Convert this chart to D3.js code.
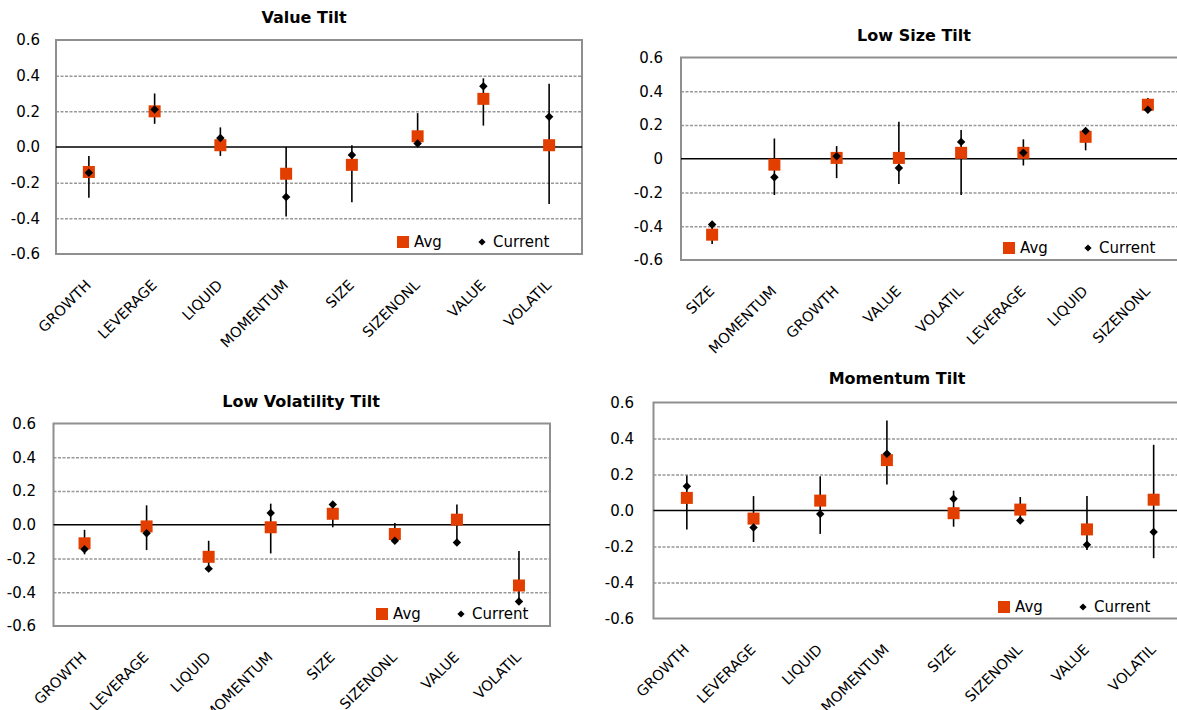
<!DOCTYPE html>
<html>
<head>
<meta charset="utf-8">
<script src="https://cdn.jsdelivr.net/npm/d3@7"></script>
<style>
  html, body { margin: 0; padding: 0; background: #fff; }
  svg { display: block; }
  text { font-family: "DejaVu Sans", sans-serif; fill: #000; }
</style>
</head>
<body>
<svg id="chart" width="1177" height="710"></svg>
<script>
// ---------- data ----------
const tickValues = [0.6, 0.4, 0.2, 0, -0.2, -0.4, -0.6];
const tickLabelsDec = ["0.6", "0.4", "0.2", "0.0", "-0.2", "-0.4", "-0.6"];
const tickLabelsGen = ["0.6", "0.4", "0.2", "0", "-0.2", "-0.4", "-0.6"];

const valueCats = ["GROWTH", "LEVERAGE", "LIQUID", "MOMENTUM", "SIZE", "SIZENONL", "VALUE", "VOLATIL"];
const valueAvg = [-0.14, 0.20, 0.01, -0.15, -0.10, 0.06, 0.27, 0.01];
const valueCur = [-0.145, 0.21, 0.05, -0.28, -0.045, 0.02, 0.34, 0.17];
const valueLo  = [-0.285, 0.13, -0.05, -0.39, -0.31, 0.015, 0.12, -0.32];
const valueHi  = [-0.05, 0.30, 0.11, 0.00, 0.01, 0.19, 0.385, 0.355];

const sizeCats = ["SIZE", "MOMENTUM", "GROWTH", "VALUE", "VOLATIL", "LEVERAGE", "LIQUID", "SIZENONL"];
const sizeAvg = [-0.45, -0.035, 0.005, 0.005, 0.035, 0.035, 0.13, 0.32];
const sizeCur = [-0.39, -0.11, 0.015, -0.055, 0.10, 0.035, 0.165, 0.29];
const sizeLo  = [-0.505, -0.215, -0.115, -0.15, -0.215, -0.04, 0.05, 0.29];
const sizeHi  = [-0.39, 0.12, 0.075, 0.22, 0.17, 0.115, 0.165, 0.36];

const volCats = ["GROWTH", "LEVERAGE", "LIQUID", "MOMENTUM", "SIZE", "SIZENONL", "VALUE", "VOLATIL"];
const volAvg = [-0.11, -0.01, -0.19, -0.015, 0.065, -0.055, 0.03, -0.36];
const volCur = [-0.145, -0.05, -0.26, 0.07, 0.12, -0.095, -0.105, -0.455];
const volLo  = [-0.175, -0.15, -0.26, -0.17, -0.015, -0.10, -0.105, -0.455];
const volHi  = [-0.03, 0.115, -0.095, 0.125, 0.12, 0.01, 0.12, -0.155];

const momCats = ["GROWTH", "LEVERAGE", "LIQUID", "MOMENTUM", "SIZE", "SIZENONL", "VALUE", "VOLATIL"];
const momAvg = [0.07, -0.045, 0.055, 0.28, -0.015, 0.005, -0.105, 0.06];
const momCur = [0.135, -0.095, -0.02, 0.315, 0.065, -0.055, -0.19, -0.12];
const momLo  = [-0.105, -0.175, -0.13, 0.145, -0.09, -0.065, -0.22, -0.265];
const momHi  = [0.195, 0.08, 0.19, 0.50, 0.11, 0.075, 0.08, 0.365];

const legendLabels = ["Avg", "Current"];

// ---------- layout ----------
const panels = [
  { title: "Value Tilt", cats: valueCats, avg: valueAvg, cur: valueCur, lo: valueLo, hi: valueHi, ticks: tickLabelsDec,
    left: 56, top: 40, right: 582, bottom: 254, titleX: 304, titleY: 23, tickRight: 40,
    legX: 403, legY: 242 },
  { title: "Low Size Tilt", cats: sizeCats, avg: sizeAvg, cur: sizeCur, lo: sizeLo, hi: sizeHi, ticks: tickLabelsGen,
    left: 681, top: 57.5, right: 1179, bottom: 260, titleX: 914, titleY: 41, tickRight: 663,
    legX: 1009, legY: 248 },
  { title: "Low Volatility Tilt", cats: volCats, avg: volAvg, cur: volCur, lo: volLo, hi: volHi, ticks: tickLabelsDec,
    left: 53.5, top: 423.5, right: 550, bottom: 626, titleX: 301, titleY: 407, tickRight: 36,
    legX: 382, legY: 614 },
  { title: "Momentum Tilt", cats: momCats, avg: momAvg, cur: momCur, lo: momLo, hi: momHi, ticks: tickLabelsDec,
    left: 653.5, top: 402.5, right: 1187, bottom: 618.5, titleX: 897, titleY: 384, tickRight: 634,
    legX: 1004, legY: 607 }
];

const AVG_COLOR = "#E23E00";
const svg = d3.select("#chart");
const diamond = d3.symbol().type(d3.symbolSquare).size(36);
const diamondLeg = d3.symbol().type(d3.symbolSquare).size(26);

panels.forEach(p => {
  const g = svg.append("g");
  const x = d3.scalePoint().domain(p.cats).range([p.left, p.right]).padding(0.5);
  const y = d3.scaleLinear().domain([-0.6, 0.6]).range([p.bottom, p.top]);
  const w = p.right - p.left;

  // gridlines (dashed)
  const grid = d3.axisLeft(y).tickValues([0.4, 0.2, -0.2, -0.4]).tickSize(-w).tickFormat("");
  const gg = g.append("g").attr("transform", `translate(${p.left},0)`).call(grid);
  gg.select(".domain").remove();
  gg.selectAll("line").attr("stroke", "#999").attr("stroke-width", 1.5).attr("stroke-dasharray", "3,1.5");

  // frame
  g.append("rect")
    .attr("x", p.left).attr("y", p.top).attr("width", w).attr("height", p.bottom - p.top)
    .attr("fill", "none").attr("stroke", "#8f8f8f").attr("stroke-width", 2);

  // zero line
  g.append("line")
    .attr("x1", p.left).attr("x2", p.right).attr("y1", y(0)).attr("y2", y(0))
    .attr("stroke", "#000").attr("stroke-width", 1.5);

  // y axis labels
  const ya = d3.axisLeft(y).tickValues(tickValues).tickSize(0).tickPadding(p.left - p.tickRight)
    .tickFormat((d, i) => p.ticks[i]);
  const yg = g.append("g").attr("transform", `translate(${p.left},0)`).call(ya);
  yg.select(".domain").remove();
  yg.selectAll("text").attr("font-family", "DejaVu Sans").attr("font-size", 15).attr("fill", "#000");

  // x labels
  g.selectAll(".xl").data(p.cats).enter().append("text")
    .attr("class", "xl")
    .attr("transform", d => `translate(${x(d) + 3},${p.bottom + 32}) rotate(-45)`)
    .attr("text-anchor", "end")
    .attr("font-family", "Open Sans")
    .attr("font-size", 14.5)
    .text(d => d);

  // title
  g.append("text")
    .attr("x", p.titleX).attr("y", p.titleY)
    .attr("text-anchor", "middle")
    .attr("font-weight", "bold")
    .attr("font-size", 16)
    .text(p.title);

  const idx = d3.range(p.cats.length);
  // error bars
  g.selectAll(".eb").data(idx).enter().append("line")
    .attr("x1", i => x(p.cats[i])).attr("x2", i => x(p.cats[i]))
    .attr("y1", i => y(p.hi[i])).attr("y2", i => y(p.lo[i]))
    .attr("stroke", "#000").attr("stroke-width", 1.6);
  // avg squares
  g.selectAll(".av").data(idx).enter().append("rect")
    .attr("x", i => x(p.cats[i]) - 6).attr("y", i => y(p.avg[i]) - 6)
    .attr("width", 12).attr("height", 12)
    .attr("fill", AVG_COLOR);
  // current diamonds
  g.selectAll(".cu").data(idx).enter().append("path")
    .attr("d", diamond)
    .attr("transform", i => `translate(${x(p.cats[i])},${y(p.cur[i])}) rotate(45)`)
    .attr("fill", "#000");

  // legend
  g.append("rect").attr("x", p.legX - 6).attr("y", p.legY - 6).attr("width", 12).attr("height", 12).attr("fill", AVG_COLOR);
  g.append("text").attr("x", p.legX + 11).attr("y", p.legY).attr("dy", "0.36em").attr("font-size", 15).text(legendLabels[0]);
  g.append("path").attr("d", diamondLeg).attr("transform", `translate(${p.legX + 79},${p.legY}) rotate(45)`).attr("fill", "#000");
  g.append("text").attr("x", p.legX + 90).attr("y", p.legY).attr("dy", "0.36em").attr("font-size", 15).text(legendLabels[1]);
});
</script>
</body>
</html>
